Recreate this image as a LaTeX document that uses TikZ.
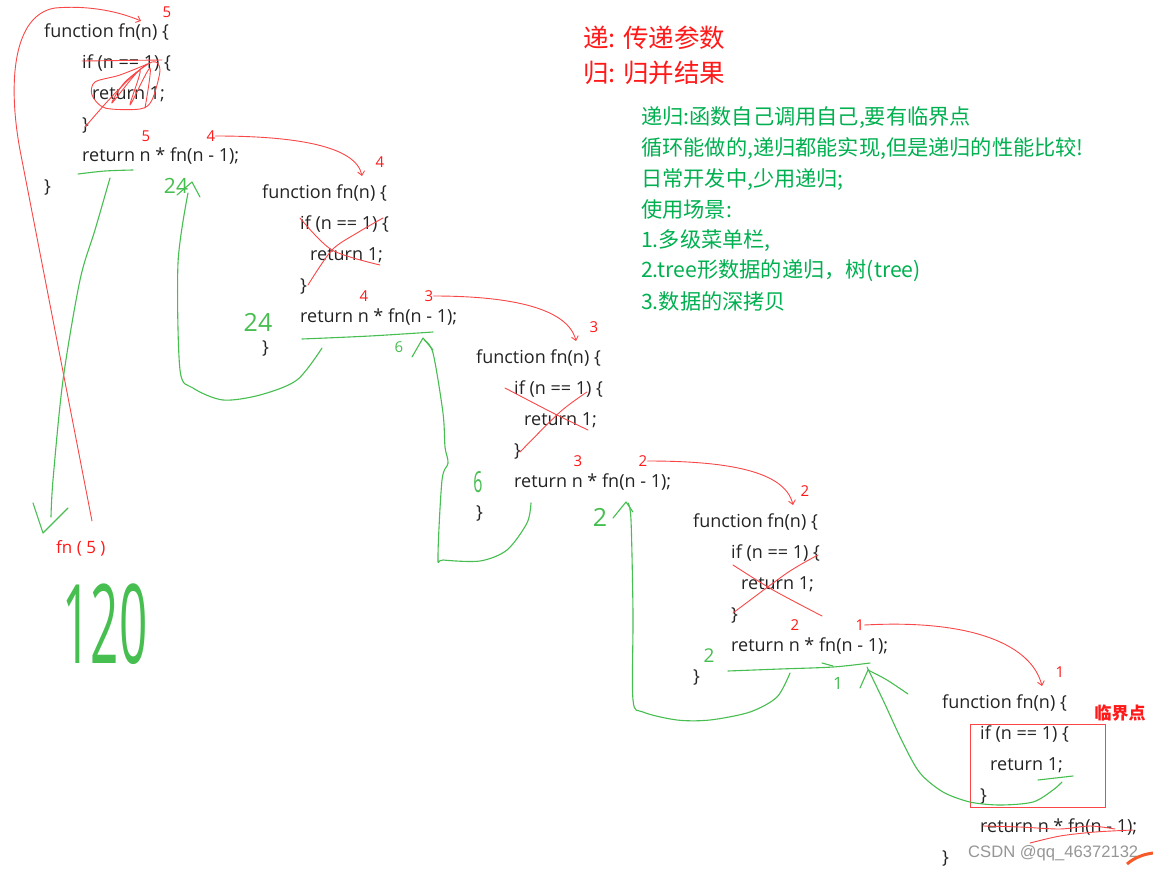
\documentclass[tikz,border=0pt]{standalone}
\usepackage{fontspec}
\setmainfont{Open Sans}
\newfontfamily\cjk{Noto Sans CJK SC}
\newfontfamily\markfont{Liberation Sans}
\usetikzlibrary{arrows.meta, calc, positioning}

\definecolor{codegray}{RGB}{35,35,35}
\definecolor{penred}{RGB}{250,70,70}
\definecolor{inkred}{RGB}{255,25,25}
\definecolor{pengreen}{RGB}{70,190,80}
\definecolor{inkgreen}{RGB}{0,176,80}
\definecolor{markgray}{RGB}{150,150,150}
\definecolor{csdnorange}{RGB}{245,90,40}

\tikzset{
  code/.style={anchor=base west, inner sep=0pt, text=codegray, font=\fontsize{18}{18}\selectfont},
  rednum/.style={inner sep=0pt, text=inkred, font=\fontsize{15}{15}\selectfont},
  note/.style={anchor=west, inner sep=0pt, text=inkgreen, font=\cjk\fontsize{21.2}{21.2}\selectfont},
  hand/.style={inner sep=0pt, text=pengreen},
  redpen/.style={draw=penred, line width=0.9pt, line cap=round, line join=round},
  greenpen/.style={draw=pengreen, line width=1.1pt, line cap=round, line join=round},
}

\begin{document}
\begin{tikzpicture}[x=1pt, y=-1pt, >={Straight Barb[length=4pt,width=7pt]}]
    \fill[white] (0,0) rectangle (1153,869);
    \useasboundingbox (0,0) rectangle (1153,869);

    % Code blocks, one per call
    \foreach \b/\x/\y in {1/44/38, 2/262/198, 3/476/363, 4/693/527, 5/942/708} {
        \node[code] (fun\b) at (\x,\y) {function fn(n) \{};
        \node[code] (if\b) at (\x+38,\y+31) {if (n == 1) \{};
        \node[code] (one\b) at (\x+48,\y+62) {return 1;};
        \node[code] (cl\b) at (\x+38,\y+93) {\}};
        \node[code] (ret\b) at (\x+38,\y+124) {return n * fn(n - 1);};
        \node[code] (end\b) at (\x,\y+155) {\}};
        \coordinate (tip\b) at (\x+100,\y-22);
    }

    % Headings
    \node[anchor=west, inner sep=0pt, text=inkred, font=\cjk\fontsize{25.5}{25.5}\selectfont] (di) at (583,38) {递: 传递参数};
    \node[anchor=west, inner sep=0pt, text=inkred, font=\cjk\fontsize{25.5}{25.5}\selectfont] (gui) at (583,73) {归: 归并结果};

    % Notes
    \foreach \i/\t in {1/{递归:函数自己调用自己,要有临界点},
                       2/{循环能做的,递归都能实现,但是递归的性能比较!},
                       3/{日常开发中,少用递归;},
                       4/{使用场景:},
                       5/{1.多级菜单栏,},
                       6/{2.tree形数据的递归，树(tree)},
                       7/{3.数据的深拷贝}} {
        \node[note] (note\i) at (641,{118+30.6*(\i-1)}) {\t};
    }

    % Call values
    \foreach \b/\m/\k in {1/5/4, 2/4/3, 3/3/2, 4/2/1} {
        \node[rednum] (cur\b) at ($(ret\b.base west)+(64,-26)$) {\m};
        \node[rednum] (nxt\b) at ($(ret\b.base west)+(129,-26)$) {\k};
    }

    % Passing down
    \draw[redpen,->] (nxt1.east) .. controls +(80,0) and +(-6,-30) .. (tip2);
    \draw[redpen,->] (nxt2.east) .. controls +(80,0) and +(-8,-32) .. (tip3);
    \draw[redpen,->] (nxt3.east) .. controls +(80,0) and +(-8,-34) .. (tip4);
    \draw[redpen,->] (nxt4.east) .. controls +(110,-6) and +(-10,-40) .. (tip5);
    \node[rednum] (lab2) at ($(tip2)+(18,-14)$) {4};
    \node[rednum] (lab3) at ($(tip3)+(18,-14)$) {3};
    \node[rednum] (lab4) at ($(tip4)+(12,-14)$) {2};
    \node[rednum] (lab5) at ($(tip5)+(18,-14)$) {1};

    % First call
    \node[anchor=west, inner sep=0pt, text=inkred, font=\fontsize{17}{17}\selectfont] (call) at (56,548) {fn ( 5 )};
    \coordinate (start) at (92,521);
    \draw[redpen,->] (start) -- (20,150) .. controls (8,85) and (12,15) .. (55,8) .. controls (90,5) and (120,12) .. (141,21);
    \node[rednum] (lab1) at (167,12) {5};

    % Crossed out
    \draw[redpen] (82,61) -- (162,60);
    \draw[redpen] plot[smooth] coordinates {(150,63) (120,75) (95,82) (92,95) (105,108) (140,109) (152,100) (160,70) (152,62) (125,82) (112,103) (140,70) (130,105) (150,68) (145,108)};
    \draw[redpen] (147,64) .. controls (120,85) and (100,110) .. (85,127);
    \draw[redpen] plot[smooth] coordinates {(300,218) (332,250) (380,265)};
    \draw[redpen] plot[smooth] coordinates {(383,218) (357,233) (332,250) (308,285)};
    \draw[redpen] plot[smooth] coordinates {(505,388) (553,413) (588,430)};
    \draw[redpen] plot[smooth] coordinates {(587,392) (560,412) (520,452)};
    \draw[redpen] plot[smooth] coordinates {(733,565) (773,590) (822,616)};
    \draw[redpen] plot[smooth] coordinates {(818,555) (787,573) (733,613)};
    \draw[redpen] plot[smooth] coordinates {(983,826) (1020,827) (1060,829) (1090,826) (1115,829)};
    \draw[redpen] plot[smooth] coordinates {(1030,843) (1060,836) (1095,832) (1133,830)};

    % Base case
    \node[text=inkred, inner sep=0pt, font=\cjk\bfseries\fontsize{17}{17}\selectfont] (crit) at (1120,713) {临界点};
    \node[draw=penred, line width=0.9pt, inner sep=0pt, minimum width=135, minimum height=83] (critbox) at (1037.5,765.5) {};

    % Returning up
    \draw[greenpen] (1038,780) -- (1073,776);
    \draw[greenpen] plot[smooth] coordinates {(1062,782) (1053,790) (1033,802) (1000,805) (970,802) (943,792) (920,773) (903,743) (883,700) (867,667)};
    \draw[greenpen] (860,688) -- (868,670);
    \draw[greenpen] plot[smooth] coordinates {(868,670) (887,680) (908,694)};

    \draw[greenpen] plot[smooth] coordinates {(728,671) (780,669) (833,667) (870,663)};
    \draw[greenpen] (822,663) -- (833,666);
    \draw[greenpen] plot[smooth] coordinates {(790,673) (777,697) (750,712) (710,720) (677,720) (643,712) (633,700) (633,613) (631,520) (628,503)};
    \draw[greenpen] (613,518) -- (626,502) -- (633,512);

    \draw[greenpen] plot[smooth] coordinates {(531,503) (527,523) (507,550) (480,561) (443,560) (438,557) (442,480) (448,463) (445,447) (443,413) (433,353) (424,340)};
    \draw[greenpen] (412,357) -- (423,338) -- (433,350);

    \draw[greenpen] plot[smooth] coordinates {(302,339) (370,336) (433,332)};
    \draw[greenpen] plot[smooth] coordinates {(322,348) (297,380) (260,395) (223,400) (193,388) (180,370) (178,263) (188,193)};
    \draw[greenpen] (177,195) -- (192,182) -- (200,197);

    \draw[greenpen] plot[smooth] coordinates {(78,174) (105,171) (133,170)};
    \draw[greenpen] plot[smooth] coordinates {(110,178) (95,230) (80,280) (63,380) (53,480) (51,517)};
    \draw[greenpen] (33,503) -- (43,533) -- (68,508);

    % Returned values
    \node[hand, font=\fontsize{21}{21}\selectfont] (v24a) at (176,186) {24};
    \node[hand, font=\fontsize{25}{25}\selectfont] (v24b) at (258,322) {24};
    \node[hand, font=\fontsize{15}{15}\selectfont] (v6a) at (399,347) {6};
    \node[hand, font=\fontsize{29}{29}\selectfont, xscale=0.55] (v6b) at (478,482) {6};
    \node[hand, font=\fontsize{25}{25}\selectfont] (v2a) at (600,517) {2};
    \node[hand, font=\fontsize{19}{19}\selectfont] (v2b) at (709,656) {2};
    \node[hand, font=\fontsize{17}{17}\selectfont] (v1) at (838,683) {1};
    \node[hand, font=\fontsize{110}{110}\selectfont, xscale=0.45] (v120) at (105,624) {120};

    % Watermark
    \node[anchor=base west, inner sep=0pt, text=markgray, font=\markfont\fontsize{16.6}{16.6}\selectfont] (mark) at (968,857) {CSDN @qq\_46372132};
    \draw[csdnorange, line width=3pt] (1127,864) .. controls (1135,857) and (1145,854) .. (1153,853);
\end{tikzpicture}
\end{document}
